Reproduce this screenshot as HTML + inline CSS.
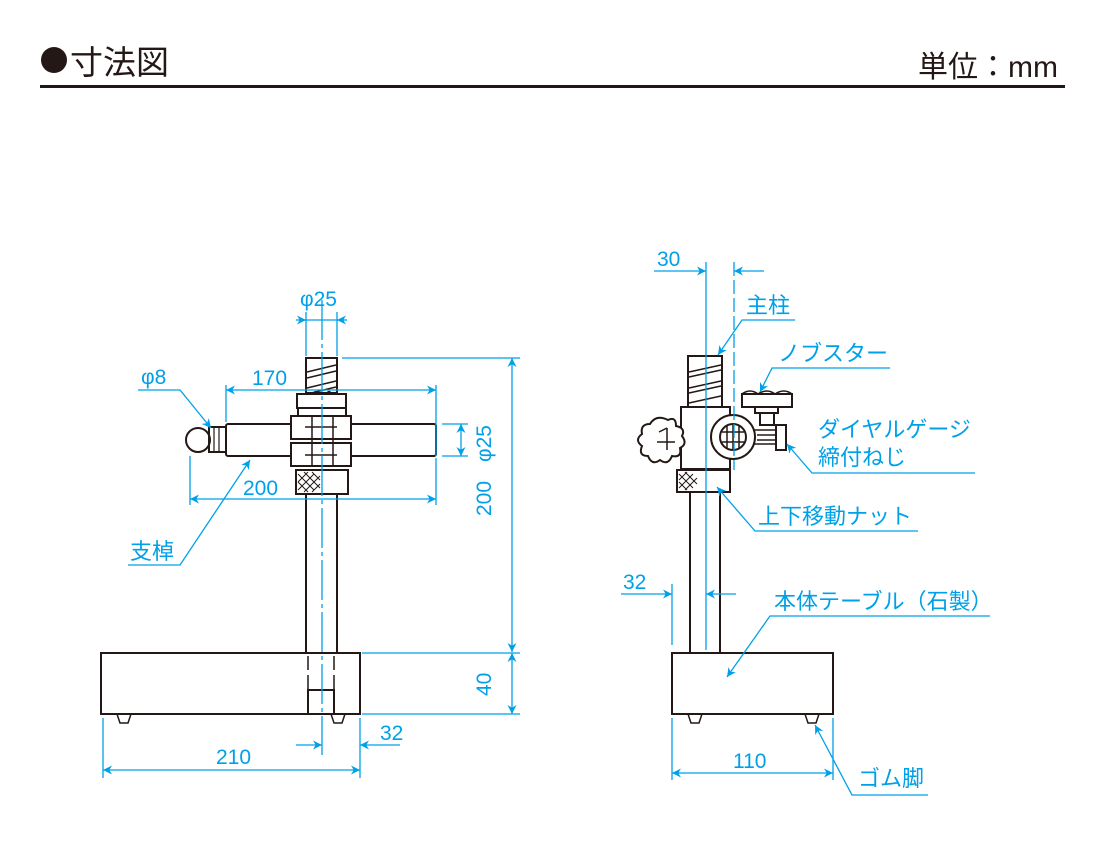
<!DOCTYPE html>
<html><head><meta charset="utf-8"><style>
html,body{margin:0;padding:0;background:#fff;}
svg{display:block;}
text{font-family:"Liberation Sans","Noto Sans CJK JP",sans-serif;}
</style></head><body>
<svg width="1100" height="850" viewBox="0 0 1100 850" xmlns="http://www.w3.org/2000/svg">
<defs>
<marker id="a" viewBox="0 0 10 10" refX="10" refY="5" markerWidth="9" markerHeight="9" orient="auto-start-reverse" markerUnits="userSpaceOnUse"><path d="M0,0 L10,5 L0,10 L3,5 z" fill="#00a0e9"/></marker>
</defs>
<!-- header -->
<circle cx="54" cy="60" r="13" fill="#231815"/>
<text x="70" y="74" font-size="33" fill="#231815">寸法図</text>
<text x="918" y="77" font-size="30" fill="#231815">単位：mm</text>
<rect x="40" y="85" width="1025" height="3" fill="#231815"/>

<g stroke="#231815" stroke-width="2" fill="none">
<!-- LEFT drawing -->
<rect x="306" y="358" width="31" height="35"/>
<path d="M307,372 L336,365 M307,378 L336,371 M307,388 L336,381 M307,394 L336,387" stroke-width="1.5"/>
<path d="M297,394 h49 v14 h-49 z"/>
<path d="M313,394 q3,-5 6,0 M326,394 q3,-5 6,0" stroke-width="1.2"/>
<rect x="298" y="408" width="48" height="8"/>
<rect x="226" y="424" width="210" height="32" rx="2"/>
<rect x="291" y="416" width="60" height="23" fill="#fff"/>
<rect x="291" y="443" width="60" height="23" fill="#fff"/>
<path d="M312,416 v50 M333,416 v50 M305,427 h32 M305,455 h32" stroke-width="1.5"/>
<rect x="209" y="427" width="17" height="25"/>
<path d="M214,427 v25 M219,427 v25" stroke-width="1.2"/>
<circle cx="198" cy="440" r="12"/>
<rect x="296" y="470" width="52" height="24"/>
<path d="M298,474 l16,16 M298,482 l10,10 M304,472 l16,16 M312,472 l8,8 M298,490 l16,-16 M298,482 l10,-10 M304,492 l16,-16 M312,492 l8,-8" stroke-width="1"/>
<path d="M306,494 V652 M337,494 V652"/>
<path d="M101,653 H360 V714 H101 Z"/>
<path d="M308,656 v14 M308,675 v14 M334,656 v14 M334,675 v14" stroke-width="1.5"/>
<rect x="308" y="690" width="26" height="24"/>
<path d="M117,714 l3,9 h8 l3,-9 M331,714 l3,9 h8 l3,-9" stroke-width="1.5"/>

<!-- RIGHT drawing -->
<rect x="688" y="356" width="34" height="52"/>
<path d="M689,372 L721,365 M689,377 L721,370 M689,388 L721,381 M689,393 L721,386 M689,403 L721,396" stroke-width="1.5"/>
<rect x="681" y="407" width="49" height="62" fill="#fff"/>
<path d="M668,420 q8,-4 8,6 q10,2 6,10 q6,8 -2,12 q2,10 -8,8 q-4,10 -12,4 q-8,6 -12,-4 q-10,0 -6,-10 q-8,-6 0,-12 q-2,-10 8,-10 q6,-10 18,-4 z" fill="#fff"/>
<path d="M667,428 v22 M657,442 h18 M659,432 l8,-4" stroke-width="1.5"/>
<circle cx="733" cy="437" r="22" fill="#fff"/>
<circle cx="733" cy="437" r="13"/>
<path d="M727,426 v22 M733,425 v24 M739,426 v22 M722,432 h22 M722,442 h22" stroke-width="1.5"/>
<path d="M754,430 h22 M754,444 h22 M757,435 h19 M757,440 h19" stroke-width="1.5"/>
<rect x="776" y="425" width="10" height="25"/>
<path d="M742,394 h50 v13 h-50 z"/>
<path d="M742,394 q8,-6 16,0 q9,-6 17,0 q9,-6 17,0" stroke-width="1.5"/>
<rect x="755" y="407" width="23" height="6"/>
<rect x="760" y="413" width="14" height="12"/>
<rect x="677" y="470" width="53" height="22"/>
<path d="M679,474 l14,14 M679,482 l8,8 M685,472 l12,12 M679,488 l14,-14 M679,480 l8,-8 M685,490 l12,-12" stroke-width="1"/>
<path d="M690,492 V653 M720,492 V653"/>
<path d="M672,653 H833 V714 H672 Z"/>
<path d="M688,714 l3,9 h8 l3,-9 M805,714 l3,9 h8 l3,-9" stroke-width="1.5"/>
</g>

<g stroke="#00a0e9" stroke-width="1.3" fill="none">
<path d="M322,300 V755" stroke-dasharray="40,4,4,4"/>
<path d="M306,312 V356 M337,312 V356"/>
<path d="M296,320 H306" marker-end="url(#a)"/><path d="M347,320 H337" marker-end="url(#a)"/>
<path d="M306,320 H337"/>
<path d="M342,358 H520 M362,653 H520 M362,714 H520"/>
<path d="M512,358 V652" marker-start="url(#a)" marker-end="url(#a)"/>
<path d="M512,653 V714" marker-start="url(#a)" marker-end="url(#a)"/>
<path d="M226,385 V422 M436,385 V456"/>
<path d="M226,390 H436" marker-start="url(#a)" marker-end="url(#a)"/>
<path d="M190,456 V505 M436,458 V505"/>
<path d="M190,499 H436" marker-start="url(#a)" marker-end="url(#a)"/>
<path d="M442,424 H468 M442,456 H468"/>
<path d="M461,424 V456" marker-start="url(#a)" marker-end="url(#a)"/>
<path d="M138,390 H180 L211,428" marker-end="url(#a)"/>
<path d="M128,565 H180 L250,460" marker-end="url(#a)"/>
<path d="M103,718 V778 M360,718 V778"/>
<path d="M103,770 H360" marker-start="url(#a)" marker-end="url(#a)"/>
<path d="M296,745 H322" marker-end="url(#a)"/>
<path d="M400,745 H360" marker-end="url(#a)"/>

<path d="M706,262 V650"/>
<path d="M734,262 V470" stroke-dasharray="14,4"/>
<path d="M654,271 H706" marker-end="url(#a)"/>
<path d="M764,271 H734" marker-end="url(#a)"/>
<path d="M672,584 V645"/>
<path d="M621,594 H672" marker-end="url(#a)"/>
<path d="M736,594 H706" marker-end="url(#a)"/>
<path d="M672,718 V780 M833,718 V780"/>
<path d="M672,773 H833" marker-start="url(#a)" marker-end="url(#a)"/>
<path d="M795,320 H742 L718,355" marker-end="url(#a)"/>
<path d="M890,368 H772 L760,392" marker-end="url(#a)"/>
<path d="M975,473 H812 L787,444" marker-end="url(#a)"/>
<path d="M918,531 H755 L717,487" marker-end="url(#a)"/>
<path d="M990,616 H770 L727,677" marker-end="url(#a)"/>
<path d="M928,795 H852 L815,725" marker-end="url(#a)"/>
</g>

<g fill="#00a0e9" font-size="21">
<text x="300" y="306">φ25</text>
<text x="252" y="385">170</text>
<text x="243" y="495">200</text>
<text x="141" y="384">φ8</text>
<text x="130" y="559" font-size="22">支棹</text>
<text x="216" y="764">210</text>
<text x="380" y="740">32</text>
<text transform="translate(491,516) rotate(-90)">200</text>
<text transform="translate(491,696) rotate(-90)">40</text>
<text transform="translate(491,462) rotate(-90)">φ25</text>
<text x="657" y="266">30</text>
<text x="623" y="589">32</text>
<text x="733" y="768">110</text>
<g font-size="22">
<text x="746" y="313">主柱</text>
<text x="778" y="361">ノブスター</text>
<text x="818" y="437">ダイヤルゲージ</text>
<text x="818" y="465">締付ねじ</text>
<text x="758" y="524">上下移動ナット</text>
<text x="774" y="609">本体テーブル（石製）</text>
<text x="858" y="786">ゴム脚</text>
</g>
</g>
</svg>
</body></html>
